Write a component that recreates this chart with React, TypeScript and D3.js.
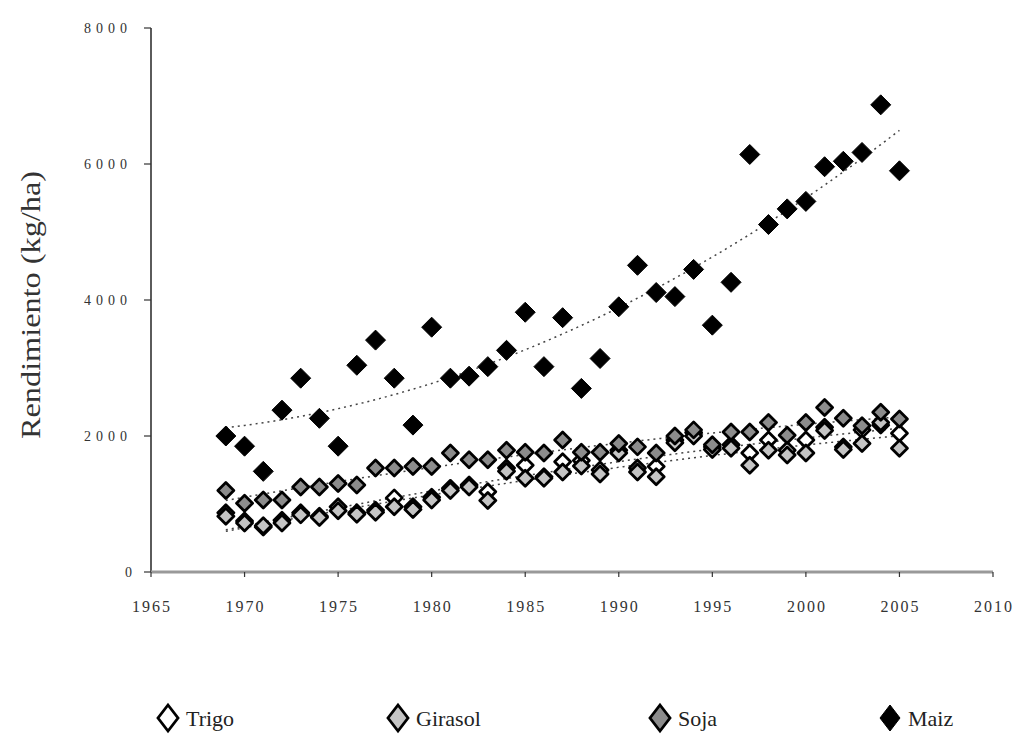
import React from 'react';
import * as d3 from 'd3';

// años 1969-2005
const years = d3.range(1969, 2006);

const trigo = [870, 750, 660, 760, 870, 820, 960, 870, 910, 1090, 960, 1100, 1230, 1280, 1180, 1530, 1570, 1400, 1620, 1640, 1500, 1790, 1530, 1550, 1940, 2050, 1840, 1870, 1750, 1940, 1790, 1940, 2130, 1840, 2090, 2160, 2040];
const girasol = [820, 720, 680, 720, 840, 800, 900, 850, 880, 960, 920, 1060, 1200, 1250, 1050, 1480, 1380, 1380, 1470, 1560, 1440, 1750, 1470, 1400, 1900, 2000, 1800, 1820, 1570, 1790, 1720, 1750, 2080, 1800, 1890, 2200, 1820];
const soja = [1200, 1010, 1060, 1060, 1250, 1250, 1300, 1280, 1530, 1530, 1550, 1550, 1750, 1650, 1650, 1790, 1760, 1750, 1940, 1760, 1760, 1890, 1840, 1750, 2000, 2090, 1870, 2060, 2060, 2200, 2010, 2200, 2420, 2260, 2150, 2350, 2250];
const maiz = [2000, 1850, 1480, 2380, 2850, 2260, 1850, 3040, 3410, 2850, 2160, 3600, 2850, 2880, 3020, 3260, 3820, 3020, 3740, 2700, 3140, 3900, 4510, 4110, 4050, 4450, 3630, 4260, 6140, 5110, 5340, 5450, 5960, 6040, 6170, 6870, 5900];

const yTicks = [0, 2000, 4000, 6000, 8000];
const xTicks = [1965, 1970, 1975, 1980, 1985, 1990, 1995, 2000, 2005, 2010];

const series = [
  { name: 'Trigo', values: trigo, fill: '#ffffff', r: 8 },
  { name: 'Girasol', values: girasol, fill: '#c4c4c4', r: 8 },
  { name: 'Soja', values: soja, fill: '#8c8c8c', r: 8 },
  { name: 'Maiz', values: maiz, fill: '#000000', r: 10 },
];
const legendX = [168, 398, 660, 890];

const font = "'Liberation Serif', 'Times New Roman', serif";

const diamond = (cx: number, cy: number, rx: number, ry: number) =>
  `M${cx},${cy - ry}L${cx + rx},${cy}L${cx},${cy + ry}L${cx - rx},${cy}Z`;

// tendencia polinómica de orden 2 (mínimos cuadrados)
const fit2 = (xs: number[], ys: number[]) => {
  const mx = d3.mean(xs)!;
  const u = xs.map((x) => x - mx);
  const s = (k: number) => d3.sum(u, (v) => v ** k);
  const t = (k: number) => d3.sum(u, (v, i) => v ** k * ys[i]);
  const A = [
    [u.length, s(1), s(2)],
    [s(1), s(2), s(3)],
    [s(2), s(3), s(4)],
  ];
  const B = [t(0), t(1), t(2)];
  const det = (m: number[][]) =>
    m[0][0] * (m[1][1] * m[2][2] - m[1][2] * m[2][1]) -
    m[0][1] * (m[1][0] * m[2][2] - m[1][2] * m[2][0]) +
    m[0][2] * (m[1][0] * m[2][1] - m[1][1] * m[2][0]);
  const D = det(A);
  const c = [0, 1, 2].map((j) => det(A.map((row, i) => row.map((v, k) => (k === j ? B[i] : v)))) / D);
  return (x: number) => c[0] + c[1] * (x - mx) + c[2] * (x - mx) ** 2;
};

export default function App() {
  const x = d3.scaleLinear().domain([1965, 2010]).range([151, 993]);
  const y = d3.scaleLinear().domain([0, 8000]).range([572, 28]);
  const x0 = years[0];
  const x1 = years[years.length - 1];
  const grid = d3.range(x0, x1 + 0.01, 0.25);

  return (
    <svg width={1018} height={738} style={{ position: 'absolute', left: 0, top: 0, background: '#fff' }}>
      {/* eje y */}
      <line x1={x(1965)} x2={x(1965)} y1={y(8000)} y2={y(0)} stroke="#333" strokeWidth={1.6} />
      {yTicks.map((t) => (
        <g key={t}>
          <line x1={x(1965) - 7} x2={x(1965)} y1={y(t)} y2={y(t)} stroke="#333" strokeWidth={1.2} />
          <text
            x={132}
            y={y(t) + 5}
            textAnchor="end"
            fontFamily={font}
            fontSize={14}
            fill="#333"
            letterSpacing={t === 0 ? 0 : 5}
          >
            {t}
          </text>
        </g>
      ))}
      {/* eje x */}
      <line x1={x(1965)} x2={x(2010)} y1={y(0)} y2={y(0)} stroke="#999" strokeWidth={3} />
      {xTicks.map((t) => (
        <g key={t}>
          <line x1={x(t)} x2={x(t)} y1={y(0)} y2={y(0) + 5} stroke="#333" strokeWidth={1.2} />
          <text
            x={x(t)}
            y={612}
            textAnchor="middle"
            fontFamily={font}
            fontSize={16}
            fill="#333"
            textLength={38}
            lengthAdjust="spacing"
          >
            {t}
          </text>
        </g>
      ))}
      <text
        transform={`translate(40,305) rotate(-90)`}
        textAnchor="middle"
        fontFamily={font}
        fontSize={27}
        fill="#333"
        textLength={268}
        lengthAdjust="spacingAndGlyphs"
      >
        Rendimiento (kg/ha)
      </text>

      {/* tendencias */}
      {series.map((s) => {
        const f = fit2(years, s.values);
        const line = d3
          .line<number>()
          .x((d) => x(d))
          .y((d) => y(f(d)));
        return (
          <path
            key={'t' + s.name}
            d={line(grid) || ''}
            fill="none"
            stroke="#444"
            strokeWidth={1.5}
            strokeDasharray="2,4"
          />
        );
      })}

      {/* puntos */}
      {series.map((s) => (
        <g key={s.name}>
          {s.values.map((v, i) => (
            <path
              key={i}
              d={diamond(x(years[i]), y(v), s.r, s.r)}
              fill={s.fill}
              stroke="#000"
              strokeWidth={s.name === 'Maiz' ? 1 : 2.8}
              strokeLinejoin="round"
            />
          ))}
        </g>
      ))}

      {/* leyenda */}
      {series.map((s, i) => (
        <g key={'l' + s.name}>
          <path
            d={diamond(legendX[i], 718, 10, 13)}
            fill={s.fill}
            stroke="#000"
            strokeWidth={s.name === 'Maiz' ? 1 : 2.8}
          />
          <text x={legendX[i] + 18} y={726} fontFamily={font} fontSize={22} fill="#222">
            {s.name}
          </text>
        </g>
      ))}
    </svg>
  );
}
